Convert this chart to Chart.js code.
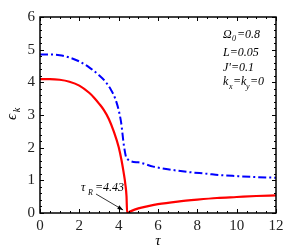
<!DOCTYPE html>
<html>
<head>
<meta charset="utf-8">
<script src="https://cdn.jsdelivr.net/npm/chart.js@4.4.1/dist/chart.umd.min.js"></script>
<style>
  html, body { margin: 0; padding: 0; background: #fff; }
  #wrap { width: 305px; height: 249px; }
</style>
</head>
<body>
<div id="wrap"><canvas id="myChart" width="305" height="249"></canvas></div>
<script>
// values
const tauRed = [0, 0.5, 1, 1.5, 2, 2.5, 2.75, 3, 3.25, 3.5, 3.75, 4, 4.15, 4.25, 4.34, 4.4, 4.43, 4.6, 5, 5.5, 6, 7, 8, 9, 10, 11, 12];
const epsRed = [4.1, 4.1, 4.08, 4.02, 3.9, 3.68, 3.53, 3.35, 3.15, 2.88, 2.5, 2.02, 1.6, 1.25, 0.88, 0.5, 0, 0.05, 0.14, 0.21, 0.27, 0.35, 0.41, 0.46, 0.49, 0.52, 0.54];

const tauBlue = [0, 0.5, 1, 1.5, 2, 2.5, 3, 3.3, 3.6, 3.8, 4, 4.13, 4.27, 4.41, 5, 5.76, 6.5, 7.46, 8.5, 9.15, 10, 11, 12];
const epsBlue = [4.85, 4.85, 4.83, 4.76, 4.64, 4.46, 4.22, 4.04, 3.78, 3.54, 3.15, 2.75, 2.05, 1.67, 1.55, 1.42, 1.34, 1.26, 1.2, 1.16, 1.13, 1.1, 1.08];

const xTicks = [0, 2, 4, 6, 8, 10, 12];
const yTicks = [0, 1, 2, 3, 4, 5, 6];

const tauR = 4.43;

const serif = '"Liberation Serif", "DejaVu Serif", serif';

function toPoints(xs, ys) {
    const pts = [];
    for (let i = 0; i < xs.length; i++) {
        pts.push({ x: xs[i], y: ys[i] });
    }
    return pts;
}

// inward ticks on all 4 sides, axis titles, and the text notes
const decorations = {
    id: 'decorations',
    afterDraw(chart) {
        const ctx = chart.ctx;
        const xs = chart.scales.x;
        const ys = chart.scales.y;
        const a = chart.chartArea;
        ctx.save();
        ctx.strokeStyle = '#000';
        ctx.lineWidth = 1;
        ctx.beginPath();
        for (let v = 0; v <= 12.001; v += 0.5) {
            const px = Math.round(xs.getPixelForValue(v)) + 0.5;
            const len = (Math.abs(v % 2) < 0.01) ? 4 : 2;
            ctx.moveTo(px, a.bottom); ctx.lineTo(px, a.bottom - len);
            ctx.moveTo(px, a.top); ctx.lineTo(px, a.top + len);
        }
        for (let v = 0; v <= 6.001; v += 0.2) {
            const py = Math.round(ys.getPixelForValue(v)) + 0.5;
            const major = Math.abs(v - Math.round(v)) < 0.01;
            const len = major ? 4 : 2;
            ctx.moveTo(a.left, py); ctx.lineTo(a.left + len, py);
            ctx.moveTo(a.right, py); ctx.lineTo(a.right - len, py);
        }
        ctx.stroke();

        // frame
        ctx.lineWidth = 1.5;
        ctx.strokeRect(a.left, a.top, a.right - a.left, a.bottom - a.top);

        ctx.fillStyle = '#000';
        // x title
        ctx.font = 'italic 15px ' + serif;
        ctx.textAlign = 'center';
        ctx.textBaseline = 'alphabetic';
        ctx.fillText('τ', (a.left + a.right) / 2, 245);

        // y title, rotated
        ctx.save();
        ctx.translate(16, (a.top + a.bottom) / 2);
        ctx.rotate(-Math.PI / 2);
        ctx.font = 'italic 15px ' + serif;
        ctx.textAlign = 'center';
        ctx.fillText('ϵ', -2, 0);
        ctx.font = 'italic 10px ' + serif;
        ctx.fillText('k', 5, 4);
        ctx.restore();

        // parameter notes
        ctx.textAlign = 'left';
        const nx = 223;
        ctx.font = 'italic 12px ' + serif;
        ctx.fillText('Ω', nx, 38);
        ctx.font = 'italic 8px ' + serif;
        ctx.fillText('0', nx + 9, 41);
        ctx.font = 'italic 12px ' + serif;
        ctx.fillText('=0.8', nx + 14, 38);
        ctx.fillText('L=0.05', nx, 56);
        ctx.fillText('J\'=0.1', nx, 71);
        ctx.fillText('k', nx, 85);
        ctx.font = 'italic 8px ' + serif;
        ctx.fillText('x', nx + 6, 89);
        ctx.font = 'italic 12px ' + serif;
        ctx.fillText('=k', nx + 10, 85);
        ctx.font = 'italic 8px ' + serif;
        ctx.fillText('y', nx + 23, 89);
        ctx.font = 'italic 12px ' + serif;
        ctx.fillText('=0', nx + 27, 85);

        // tau_R label and arrow
        const ax = xs.getPixelForValue(tauR);
        const ay = ys.getPixelForValue(0);
        ctx.font = 'italic 12px ' + serif;
        ctx.fillText('τ', 81, 191);
        ctx.font = 'italic 8px ' + serif;
        ctx.fillText('R', 88, 195);
        ctx.font = 'italic 12px ' + serif;
        ctx.fillText('=4.43', 95, 191);

        ctx.lineWidth = 0.8;
        ctx.beginPath();
        ctx.moveTo(96, 194);
        ctx.lineTo(ax - 4, ay - 3);
        ctx.stroke();
        const ang = Math.atan2((ay - 3) - 194, (ax - 4) - 96);
        ctx.beginPath();
        ctx.moveTo(ax - 4, ay - 3);
        ctx.lineTo(ax - 4 - 6 * Math.cos(ang - 0.35), ay - 3 - 6 * Math.sin(ang - 0.35));
        ctx.lineTo(ax - 4 - 6 * Math.cos(ang + 0.35), ay - 3 - 6 * Math.sin(ang + 0.35));
        ctx.closePath();
        ctx.fill();
        ctx.restore();
    }
};

var ctx = document.getElementById('myChart').getContext('2d');

var myChart = new Chart(ctx, {
    type: 'line',
    data: {
        datasets: [
            {
                label: 'blue',
                data: toPoints(tauBlue, epsBlue),
                borderColor: '#0000ff',
                borderWidth: 2,
                borderDash: [8, 3, 2, 3],
                pointRadius: 0,
                cubicInterpolationMode: 'monotone',
                fill: false
            },
            {
                label: 'red',
                data: toPoints(tauRed, epsRed),
                borderColor: '#ff0000',
                borderWidth: 2.2,
                pointRadius: 0,
                cubicInterpolationMode: 'monotone',
                fill: false
            }
        ]
    },
    options: {
        responsive: false,
        animation: false,
        devicePixelRatio: 1,
        layout: { padding: { top: 17, right: 29, left: 0, bottom: 0 } },
        plugins: {
            legend: { display: false },
            tooltip: { enabled: false }
        },
        scales: {
            x: {
                type: 'linear',
                min: 0,
                max: 12,
                afterFit: (s) => { s.height = 36; },
                afterBuildTicks: (s) => { s.ticks = xTicks.map(v => ({ value: v })); },
                grid: { display: false, drawTicks: false },
                border: { display: false },
                ticks: {
                    padding: 4,
                    color: '#222',
                    font: { family: serif, size: 15 }
                }
            },
            y: {
                type: 'linear',
                min: 0,
                max: 6,
                afterFit: (s) => { s.width = 40; },
                afterBuildTicks: (s) => { s.ticks = yTicks.map(v => ({ value: v })); },
                grid: { display: false, drawTicks: false },
                border: { display: false },
                ticks: {
                    padding: 5,
                    color: '#222',
                    font: { family: serif, size: 15 }
                }
            }
        }
    },
    plugins: [decorations]
});
</script>
</body>
</html>
